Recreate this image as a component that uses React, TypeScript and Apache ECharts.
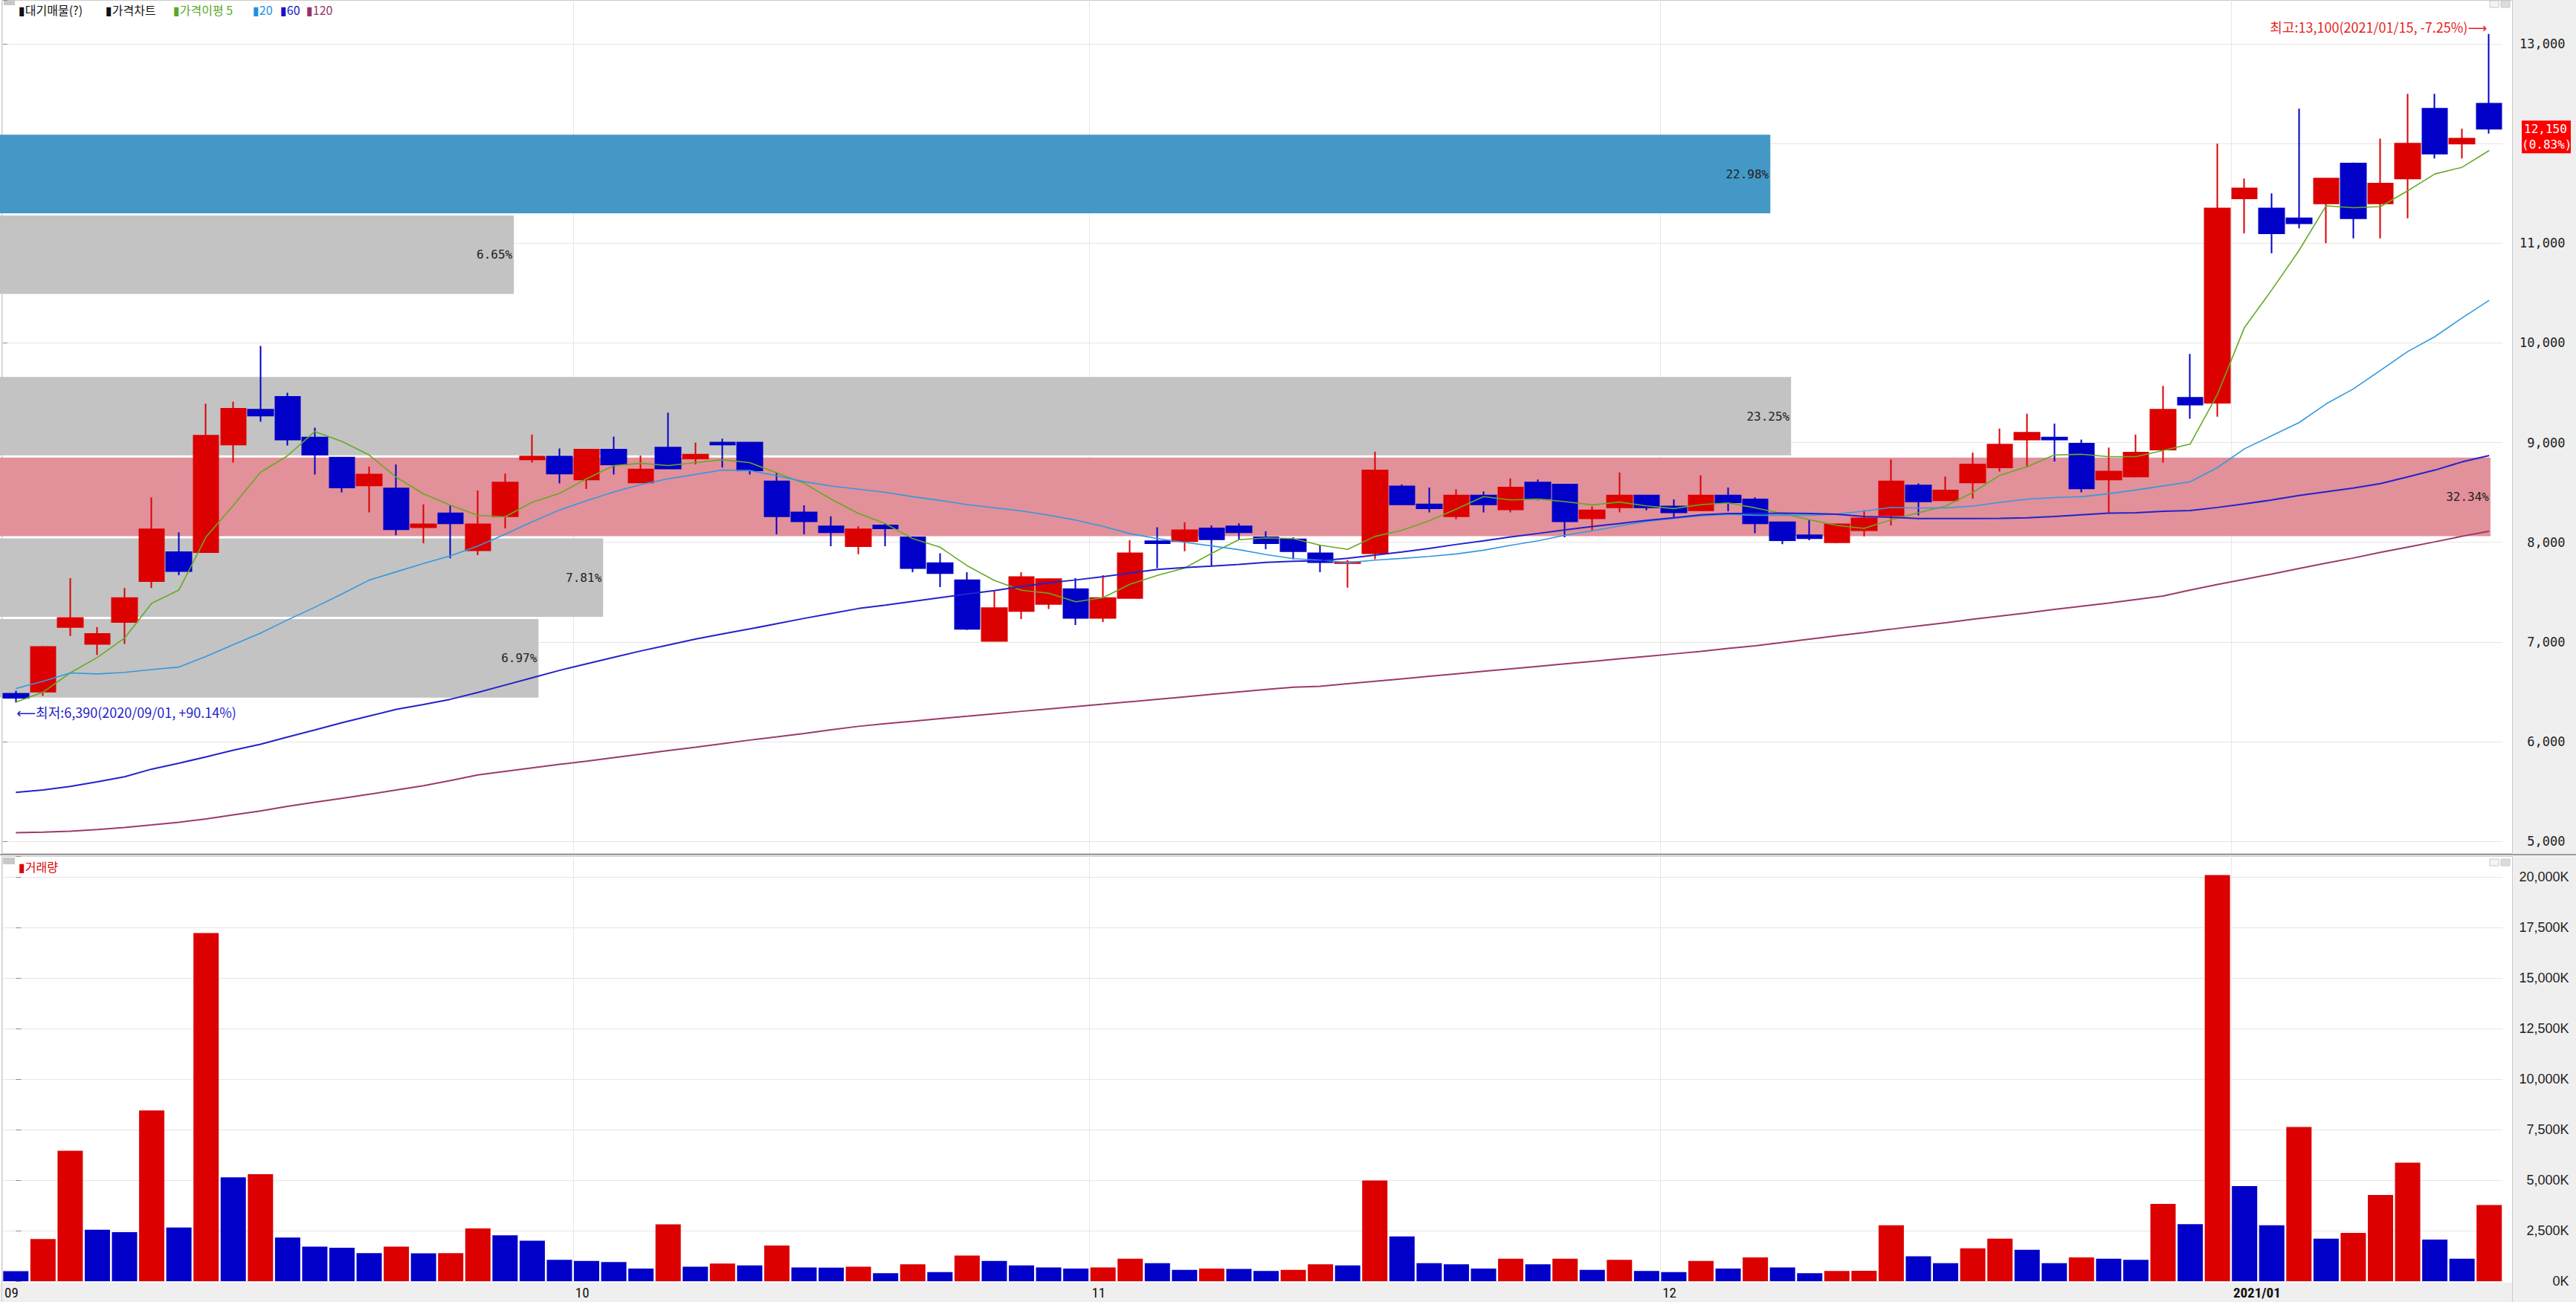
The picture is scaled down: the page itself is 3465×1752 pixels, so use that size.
import React, { useEffect, useRef } from 'react';
import * as echarts from 'echarts';

// ---------------- data ----------------
const dates = [
  '2020/09/01','2020/09/02','2020/09/03','2020/09/04','2020/09/07','2020/09/08','2020/09/09','2020/09/10','2020/09/11','2020/09/14',
  '2020/09/15','2020/09/16','2020/09/17','2020/09/18','2020/09/21','2020/09/22','2020/09/23','2020/09/24','2020/09/25','2020/09/28','2020/09/29',
  '2020/10/05','2020/10/06','2020/10/07','2020/10/08','2020/10/12','2020/10/13','2020/10/14','2020/10/15','2020/10/16','2020/10/19',
  '2020/10/20','2020/10/21','2020/10/22','2020/10/23','2020/10/26','2020/10/27','2020/10/28','2020/10/29','2020/10/30',
  '2020/11/02','2020/11/03','2020/11/04','2020/11/05','2020/11/06','2020/11/09','2020/11/10','2020/11/11','2020/11/12','2020/11/13',
  '2020/11/16','2020/11/17','2020/11/18','2020/11/19','2020/11/20','2020/11/23','2020/11/24','2020/11/25','2020/11/26','2020/11/27','2020/11/30',
  '2020/12/01','2020/12/02','2020/12/03','2020/12/04','2020/12/07','2020/12/08','2020/12/09','2020/12/10','2020/12/11','2020/12/14',
  '2020/12/15','2020/12/16','2020/12/17','2020/12/18','2020/12/21','2020/12/22','2020/12/23','2020/12/24','2020/12/28','2020/12/29','2020/12/30',
  '2021/01/04','2021/01/05','2021/01/06','2021/01/07','2021/01/08','2021/01/11','2021/01/12','2021/01/13','2021/01/14','2021/01/15',
];

const opens = [
  6480, 6500, 7150, 6980, 7200, 7610, 7900, 7900, 8980, 9330,
  9460, 9050, 8850, 8570, 8540, 8150, 8290, 7920, 8260, 8830, 8860,
  8630, 8930, 8600, 8950, 8840, 9000, 9000, 8610, 8300, 8160,
  7960, 8170, 8050, 7790, 7620, 7010, 7310, 7380, 7530,
  7240, 7440, 8010, 8010, 8140, 8160, 8050, 8030, 7890, 7790,
  7890, 8560, 8380, 8260, 8470, 8330, 8600, 8580, 8240, 8350, 8470,
  8360, 8320, 8470, 8430, 8200, 8070, 8000, 8120, 8270, 8570,
  8420, 8600, 8750, 9030, 9050, 8990, 8630, 8660, 8930, 9450, 9400,
  11450, 11350, 11250, 11400, 11800, 11400, 11650, 12350, 12000, 12400,
];
const closes = [
  6440, 6950, 7240, 7080, 7440, 8130, 7710, 9070, 9340, 9270,
  9030, 8880, 8550, 8680, 8130, 8180, 8190, 8180, 8600, 8860, 8690,
  8930, 8780, 8730, 8740, 8880, 8980, 8720, 8260, 8210, 8100,
  8130, 8140, 7740, 7690, 7130, 7340, 7650, 7630, 7240,
  7440, 7890, 7990, 8120, 8030, 8100, 7990, 7910, 7800, 7800,
  8720, 8380, 8340, 8470, 8380, 8550, 8440, 8210, 8320, 8470, 8350,
  8300, 8470, 8400, 8190, 8020, 8040, 8180, 8240, 8610, 8410,
  8520, 8780, 8980, 9100, 9030, 8540, 8710, 8900, 9330, 9380, 11350,
  11550, 11100, 11200, 11650, 11250, 11600, 12000, 11900, 12050, 12150,
];
const lows = [
  6390, 6460, 7060, 6870, 6980, 7540, 7670, 7900, 8800, 9210,
  8970, 8680, 8500, 8300, 8070, 7990, 7840, 7870, 8140, 8800, 8590,
  8535, 8680, 8600, 8740, 8780, 8750, 8680, 8080, 8080, 7960,
  7880, 7960, 7700, 7550, 7120, 7010, 7230, 7330, 7170,
  7200, 7440, 7740, 7910, 7760, 8020, 7930, 7830, 7700, 7545,
  7830, 8375, 8300, 8230, 8300, 8300, 8420, 8050, 8120, 8300, 8320,
  8250, 8320, 8310, 8090, 7980, 8020, 7990, 8060, 8170, 8270,
  8420, 8440, 8710, 8750, 8810, 8500, 8290, 8650, 8800, 9240, 9260,
  11100, 10900, 11150, 11000, 11050, 11050, 11250, 11850, 11850, 12100,
];
const highs = [
  6510, 6960, 7640, 7150, 7540, 8450, 8100, 9390, 9410, 9970,
  9500, 9150, 8850, 8760, 8780, 8380, 8370, 8520, 8690, 9080, 8940,
  8930, 9060, 8870, 9300, 9000, 9040, 9000, 8700, 8370, 8260,
  8160, 8190, 8060, 7890, 7700, 7510, 7700, 7630, 7640,
  7670, 8020, 8150, 8200, 8170, 8190, 8110, 8050, 7970, 7820,
  8910, 8580, 8550, 8530, 8510, 8640, 8630, 8580, 8360, 8700, 8475,
  8430, 8670, 8550, 8450, 8200, 8230, 8185, 8320, 8830, 8590,
  8660, 8900, 9140, 9290, 9190, 9030, 8950, 9080, 9570, 9890, 12000,
  11650, 11500, 12350, 11650, 11810, 12050, 12500, 12500, 12150, 13100,
];

const ma5 = [
  6396, 6496, 6689, 6845, 7038, 7388, 7521, 8053, 8369, 8702,
  8868, 9111, 9012, 8875, 8652, 8486, 8371, 8270, 8255, 8402, 8490,
  8637, 8769, 8793, 8769, 8799, 8828, 8799, 8696, 8593, 8432,
  8290, 8185, 8037, 7951, 7765, 7617, 7519, 7489, 7403,
  7444, 7580, 7667, 7741, 7889, 8025, 8044, 8037, 7970, 7928,
  8058, 8120, 8215, 8333, 8458, 8425, 8433, 8408, 8375, 8403, 8365,
  8338, 8378, 8395, 8345, 8288, 8226, 8169, 8139, 8226, 8296,
  8363, 8499, 8673, 8759, 8876, 8883, 8859, 8859, 8921, 8986, 9482,
  10157, 10532, 10926, 11376, 11357, 11368, 11526, 11695, 11762, 11931,
];
const ma20 = [
  6532, 6605, 6689, 6679, 6695, 6722, 6748, 6855, 6972, 7088,
  7221, 7348, 7481, 7620, 7704, 7787, 7865, 7962, 8079, 8206, 8323,
  8417, 8505, 8579, 8637, 8681, 8725, 8720, 8667, 8608, 8564,
  8533, 8501, 8457, 8420, 8378, 8346, 8314, 8272, 8222,
  8160, 8086, 8037, 8000, 7963, 7926, 7877, 7835, 7820, 7795,
  7820, 7838, 7858, 7883, 7920, 7970, 8015, 8070, 8115, 8163, 8208,
  8240, 8265, 8280, 8271, 8271, 8271, 8283, 8313, 8350, 8343,
  8345, 8363, 8400, 8432, 8449, 8457, 8487, 8524, 8565, 8607, 8749,
  8938, 9069, 9200, 9388, 9538, 9725, 9913, 10063, 10250, 10427,
];
const ma60 = [
  5491, 5514, 5550, 5597, 5647, 5724, 5783, 5847, 5913, 5973,
  6046, 6116, 6189, 6256, 6323, 6372, 6425, 6493, 6567, 6640, 6714,
  6781, 6846, 6910, 6969, 7028, 7081, 7130, 7183, 7236, 7286,
  7335, 7370, 7407, 7444, 7482, 7514, 7556, 7593, 7622,
  7654, 7691, 7728, 7746, 7760, 7778, 7798, 7810, 7815, 7840,
  7870, 7903, 7938, 7978, 8015, 8053, 8088, 8125, 8158, 8188, 8220,
  8245, 8275, 8288, 8288, 8293, 8288, 8281, 8258, 8251, 8239,
  8239, 8239, 8240, 8246, 8258, 8276, 8293, 8296, 8310, 8319, 8349,
  8386, 8424, 8469, 8506, 8544, 8589, 8656, 8724, 8806, 8870,
];
const ma120 = [
  5085, 5091, 5101, 5118, 5138, 5164, 5191, 5224, 5264, 5304,
  5351, 5391, 5431, 5471, 5514, 5557, 5610, 5666, 5701, 5736, 5771,
  5804, 5839, 5874, 5910, 5944, 5979, 6015, 6047, 6082, 6118,
  6153, 6180, 6205, 6230, 6254, 6279, 6304, 6328, 6351,
  6375, 6400, 6425, 6449, 6474, 6499, 6523, 6546, 6555, 6580,
  6605, 6630, 6655, 6680, 6705, 6730, 6755, 6780, 6805, 6830, 6855,
  6880, 6905, 6935, 6961, 6994, 7028, 7061, 7093, 7128, 7160,
  7192, 7227, 7259, 7291, 7326, 7358, 7390, 7425, 7460, 7520, 7576,
  7628, 7681, 7737, 7790, 7842, 7899, 7951, 8004, 8060, 8112,
];

// volume in thousands of shares
const volumes = [
  494, 2090, 6453, 2542, 2429, 8444, 2655, 17226, 5140, 5295,
  2160, 1709, 1652, 1384, 1709, 1380, 1390, 2612, 2273, 2005, 1059,
  1003, 946, 621, 2810, 720, 875, 777, 1765, 678, 670,
  720, 395, 833, 452, 1271, 1003, 777, 678, 621,
  678, 1115, 890, 565, 621, 610, 508, 565, 833, 777,
  4984, 2217, 890, 833, 621, 1115, 833, 1115, 565, 1059, 508,
  452, 1003, 621, 1172, 678, 395, 508, 515, 2768, 1228,
  890, 1624, 2104, 1553, 890, 1172, 1115, 1059, 3827, 2824, 20093,
  4702, 2768, 7625, 2104, 2386, 4264, 5860, 2062, 1115, 3770,
];

// 대기매물 (price-volume profile) bands
const bandLows = [6430, 7240, 8050, 8860, 10480, 11290];
const bandHighs = [7240, 8050, 8860, 9670, 11290, 12100];
const bandPcts = [6.97, 7.81, 32.34, 23.25, 6.65, 22.98];
const bandKinds = ['normal', 'normal', 'max', 'normal', 'normal', 'current'];

// month tick labels on the date axis
const monthStarts = [0, 21, 40, 61, 82];
const monthLabels = ['09', '10', '11', '12', '2021/01'];

// ---------------- styling ----------------
const RED = '#dc0000';
const BLUE = '#0000c8';
const MONO = "'DejaVu Sans Mono', 'Liberation Mono', monospace";
const KR = "'Noto Sans CJK KR', 'DejaVu Sans', sans-serif";
const GRID_C = '#e6e6e6';

function fmt(n: number) {
  return n.toLocaleString('en-US');
}

export default function App() {
  const ref = useRef<HTMLDivElement>(null);

  useEffect(() => {
    document.body.style.margin = '0';
    const chart = echarts.init(ref.current as HTMLDivElement, null, { renderer: 'svg' });
    const n = dates.length;
    const last = closes[n - 1];
    const prev = closes[n - 2];

    const candleData = dates.map((_, i) => [opens[i], closes[i], lows[i], highs[i]]);
    const volData = volumes.map((v, i) => ({
      value: v,
      itemStyle: { color: i > 0 && v > volumes[i - 1] ? RED : BLUE },
    }));

    const maLine = (name: string, data: number[], color: string, width: number) => ({
      name,
      type: 'line',
      xAxisIndex: 0,
      yAxisIndex: 0,
      data,
      symbol: 'none',
      showSymbol: false,
      smooth: false,
      z: 4,
      lineStyle: { color, width },
      silent: true,
    });

    const monthLineItem = (extraBottom: number) => (params: any, api: any) => {
      const x = Math.round(api.coord([api.value(0), api.value(1)])[0]) + 0.5;
      const cs = params.coordSys;
      return {
        type: 'line',
        shape: { x1: x, y1: cs.y, x2: x, y2: cs.y + cs.height + extraBottom },
        style: { stroke: GRID_C, lineWidth: 1 },
      };
    };

    const option: any = {
      animation: false,
      backgroundColor: 'transparent',
      grid: [
        { left: 3, top: 0, width: 3363.5, height: 1132 },
        { left: 3, top: 1152, width: 3363.5, height: 572 },
      ],
      xAxis: [
        { gridIndex: 0, type: 'category', data: dates, show: false, boundaryGap: true },
        { gridIndex: 0, type: 'value', min: 0, max: 32.5, show: false },
        { gridIndex: 0, type: 'value', min: -0.5, max: n - 0.5, show: false },
        { gridIndex: 1, type: 'category', data: dates, show: false, boundaryGap: true },
        { gridIndex: 1, type: 'value', min: -0.5, max: n - 0.5, show: false },
      ],
      yAxis: [
        {
          gridIndex: 0,
          type: 'value',
          position: 'right',
          offset: 13,
          min: 5000,
          max: 13441,
          interval: 1000,
          axisLine: { show: false },
          axisTick: { show: true, length: 7, lineStyle: { color: '#8a8a8a' } },
          axisLabel: {
            align: 'right',
            margin: 71,
            fontFamily: MONO,
            fontSize: 17,
            color: '#222',
            // the label hidden behind the current-price box is not drawn
            formatter: (v: number) => (v % 1000 === 0 && Math.abs(v - last) > 400 ? fmt(v) : ''),
          },
          splitLine: { show: true, lineStyle: { color: GRID_C, width: 1 } },
        },
        {
          gridIndex: 1,
          type: 'value',
          position: 'right',
          offset: 13,
          min: 0,
          max: 21029,
          interval: 2500,
          axisLine: { show: false },
          axisTick: { show: true, length: 7, lineStyle: { color: '#8a8a8a' } },
          axisLabel: {
            align: 'right',
            margin: 76,
            fontFamily: "'Liberation Sans', Arial, sans-serif",
            fontSize: 18,
            color: '#222',
            formatter: (v: number) => (v % 2500 === 0 ? fmt(v) + 'K' : ''),
          },
          splitLine: { show: true, lineStyle: { color: GRID_C, width: 1 } },
        },
      ],
      series: [
        {
          type: 'custom',
          xAxisIndex: 2,
          yAxisIndex: 0,
          silent: true,
          z: 1,
          data: monthStarts.map((i) => [i - 0.5, 5000]),
          renderItem: monthLineItem(16),
        },
        {
          type: 'custom',
          xAxisIndex: 1,
          yAxisIndex: 0,
          silent: true,
          z: 2,
          data: bandPcts.map((p, i) => [p, bandLows[i], bandHighs[i], i]),
          renderItem: (params: any, api: any) => {
            const idx = api.value(3);
            const pct = bandPcts[idx];
            const p0 = api.coord([0, bandHighs[idx]]);
            const p1 = api.coord([pct, bandLows[idx]]);
            const kind = bandKinds[idx];
            const fill = kind === 'max' ? '#e2909a' : kind === 'current' ? '#4498c6' : '#c3c3c3';
            return {
              type: 'group',
              children: [
                {
                  type: 'rect',
                  shape: { x: 0, y: p0[1] + 1.5, width: p1[0], height: p1[1] - p0[1] - 3 },
                  style: { fill },
                },
                {
                  type: 'text',
                  x: p1[0] - 2,
                  y: (p0[1] + p1[1]) / 2,
                  style: {
                    text: pct.toFixed(2) + '%',
                    fill: '#222',
                    fontSize: 16,
                    fontFamily: MONO,
                    align: 'right',
                    verticalAlign: 'middle',
                  },
                },
              ],
            };
          },
        },
        {
          name: '가격차트',
          type: 'candlestick',
          xAxisIndex: 0,
          yAxisIndex: 0,
          data: candleData,
          barWidth: 34,
          z: 3,
          silent: true,
          itemStyle: {
            color: RED,
            color0: BLUE,
            borderColor: RED,
            borderColor0: BLUE,
            borderWidth: 2,
          },
        },
        maLine('5', ma5, '#66aa22', 1.6),
        maLine('20', ma20, '#3399e0', 1.6),
        maLine('60', ma60, '#2222cc', 2),
        maLine('120', ma120, '#9b3a6b', 2),
        {
          type: 'custom',
          xAxisIndex: 4,
          yAxisIndex: 1,
          silent: true,
          z: 1,
          data: monthStarts.map((i) => [i - 0.5, 0]),
          renderItem: monthLineItem(0),
        },
        {
          type: 'custom',
          xAxisIndex: 4,
          yAxisIndex: 1,
          silent: true,
          z: 5,
          data: monthStarts.map((i, k) => [i - 0.5, 0, k]),
          renderItem: (params: any, api: any) => {
            const k = api.value(2);
            const x = api.coord([api.value(0), 0])[0] + 3;
            const cs = params.coordSys;
            const label = monthLabels[k];
            return {
              type: 'text',
              x,
              y: cs.y + cs.height + 15,
              style: {
                text: label,
                fill: '#111',
                fontSize: 19,
                fontWeight: label.indexOf('/') >= 0 ? 'bold' : 'normal',
                fontFamily: "'Liberation Sans Narrow', 'Roboto Condensed', Roboto, sans-serif",
                align: 'left',
                verticalAlign: 'middle',
              },
            };
          },
        },
        {
          name: '거래량',
          type: 'bar',
          xAxisIndex: 3,
          yAxisIndex: 1,
          data: volData,
          barWidth: 34,
          z: 3,
          silent: true,
        },
      ],
    };

    chart.setOption(option);

    // annotations placed through the chart's own scales
    const candleSeries = 2;
    let iMax = 0;
    let iMin = 0;
    highs.forEach((h, i) => {
      if (h > highs[iMax]) iMax = i;
    });
    lows.forEach((l, i) => {
      if (l < lows[iMin]) iMin = i;
    });
    const pHigh = chart.convertToPixel({ seriesIndex: candleSeries }, [iMax, highs[iMax]]) as number[];
    const pLow = chart.convertToPixel({ seriesIndex: candleSeries }, [iMin, lows[iMin]]) as number[];
    const pLast = chart.convertToPixel({ seriesIndex: candleSeries }, [n - 1, last]) as number[];
    const hiPct = ((last / highs[iMax] - 1) * 100).toFixed(2);
    const loPct = ((last / lows[iMin] - 1) * 100).toFixed(2);
    const chgPct = ((last / prev - 1) * 100).toFixed(2);

    const legend = (text: string, x: number, y: number, color: string) => ({
      type: 'text',
      x,
      y,
      style: { text, fill: color, fontSize: 16, fontFamily: KR, verticalAlign: 'middle', align: 'left' },
    });

    const boxTop = pLast[1] - 11;
    const graphic: any[] = [
      // pane frames
      { type: 'rect', shape: { x: 2.5, y: 0.5, width: 3377, height: 1148 }, style: { fill: 'none', stroke: '#cacaca', lineWidth: 1 }, silent: true },
      { type: 'rect', shape: { x: 2.5, y: 1152.5, width: 3377, height: 1573 }, style: { fill: 'none', stroke: '#cacaca', lineWidth: 1 }, silent: true },
      { type: 'line', shape: { x1: 0, y1: 1150, x2: 3465, y2: 1150 }, style: { stroke: '#9c9c9c', lineWidth: 2 }, silent: true },
      // pane handles / icons
      { type: 'rect', shape: { x: 5, y: 0, width: 15, height: 7 }, style: { fill: '#c8c8c8' }, silent: true },
      { type: 'rect', shape: { x: 4, y: 1154, width: 16, height: 9 }, style: { fill: '#c8c8c8' }, silent: true },
      { type: 'rect', shape: { x: 3349, y: 1, width: 12, height: 9 }, style: { fill: '#f4f4f4', stroke: '#c8c8c8', lineWidth: 1 }, silent: true },
      { type: 'rect', shape: { x: 3364, y: 1, width: 12, height: 9 }, style: { fill: '#dcdcdc', stroke: '#c8c8c8', lineWidth: 1 }, silent: true },
      { type: 'rect', shape: { x: 3349, y: 1156, width: 12, height: 9 }, style: { fill: '#f4f4f4', stroke: '#c8c8c8', lineWidth: 1 }, silent: true },
      { type: 'rect', shape: { x: 3364, y: 1156, width: 12, height: 9 }, style: { fill: '#dcdcdc', stroke: '#c8c8c8', lineWidth: 1 }, silent: true },
      // legends
      legend('▮대기매물(?)', 25, 13, '#111'),
      legend('▮가격차트', 142, 13, '#111'),
      legend('▮가격이평 5', 233, 13, '#5aa628'),
      legend('▮20', 340, 13, '#1e90e6'),
      legend('▮60', 377, 13, '#1414c8'),
      legend('▮120', 412, 13, '#993366'),
      legend('▮거래량', 25, 1166, '#e00000'),
      // high / low annotations
      {
        type: 'text',
        x: pHigh[0] - 3,
        y: pHigh[1] - 10,
        style: {
          text: `최고:${fmt(highs[iMax])}(${dates[iMax]}, ${hiPct}%)⟶`,
          fill: '#e61e1e',
          fontSize: 18,
          fontFamily: KR,
          align: 'right',
          verticalAlign: 'middle',
        },
        silent: true,
      },
      {
        type: 'text',
        x: pLow[0] + 1,
        y: pLow[1] + 12,
        style: {
          text: `⟵최저:${fmt(lows[iMin])}(${dates[iMin]}, +${loPct}%)`,
          fill: '#1e1ec8',
          fontSize: 18,
          fontFamily: KR,
          align: 'left',
          verticalAlign: 'middle',
        },
        silent: true,
      },
      // current price box on the price axis
      { type: 'rect', shape: { x: 3392, y: boxTop, width: 66, height: 44 }, style: { fill: '#ff0000' }, silent: true },
      {
        type: 'text',
        x: 3395,
        y: boxTop + 11,
        style: { text: fmt(last), fill: '#ffffff', fontSize: 16, fontFamily: MONO, align: 'left', verticalAlign: 'middle' },
        silent: true,
      },
      {
        type: 'text',
        x: 3392,
        y: boxTop + 32,
        style: { text: `(${chgPct}%)`, fill: '#ffffff', fontSize: 16, fontFamily: MONO, align: 'left', verticalAlign: 'middle' },
        silent: true,
      },
    ];

    chart.setOption({ graphic });

    return () => {
      chart.dispose();
    };
  }, []);

  return (
    <div style={{ position: 'fixed', left: 0, top: 0, width: 3465, height: 1752, background: '#ffffff', overflow: 'hidden' }}>
      <div style={{ position: 'absolute', left: 3380, top: 0, width: 85, height: 1752, background: '#efefef' }} />
      <div style={{ position: 'absolute', left: 0, top: 1726, width: 3465, height: 26, background: '#efefef' }} />
      <div ref={ref} style={{ position: 'absolute', left: 0, top: 0, width: 3465, height: 1752 }} />
    </div>
  );
}
